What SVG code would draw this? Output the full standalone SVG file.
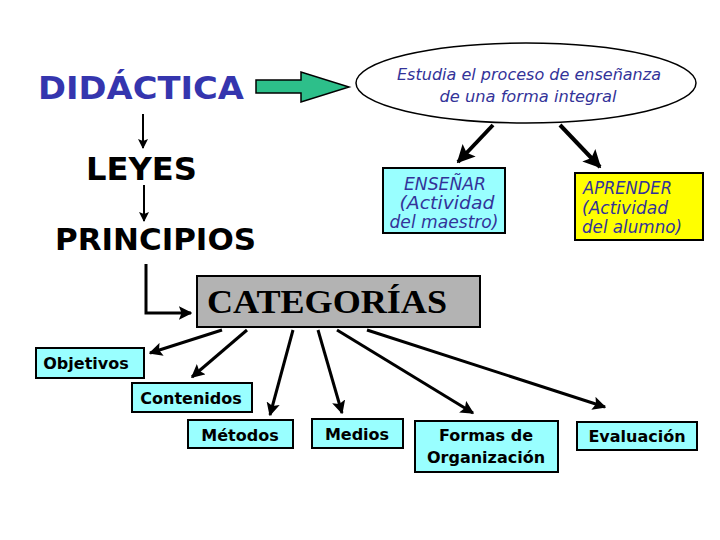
<svg xmlns="http://www.w3.org/2000/svg" width="720" height="540" viewBox="0 0 720 540">
<style>
.big{font-family:"DejaVu Sans",Verdana,sans-serif;font-weight:bold;font-size:32px;fill:#000}
.it{font-family:"DejaVu Sans",Verdana,sans-serif;font-style:italic;font-size:16px;fill:#333399}
.bx{font-size:18px}
.lab{font-family:"DejaVu Sans",Verdana,sans-serif;font-weight:bold;font-size:16px;fill:#000;text-anchor:middle}
.cy{fill:#99ffff;stroke:#000;stroke-width:2}
.thin{stroke:#000;stroke-width:2;fill:none}
.thick{stroke:#000;stroke-width:3;fill:none}
</style>
<defs>
<marker id="ah" viewBox="0 0 10 10" refX="9" refY="5" markerWidth="4.5" markerHeight="4.5" orient="auto" markerUnits="strokeWidth">
<path d="M0,0 L10,5 L0,10 L2,5 Z" fill="#000"/>
</marker>
<marker id="ah2" viewBox="0 0 10 10" refX="9" refY="5" markerWidth="5" markerHeight="5" orient="auto" markerUnits="strokeWidth">
<path d="M0,0 L10,5 L0,10 L2,5 Z" fill="#000"/>
</marker>
</defs>
<rect width="720" height="540" fill="#fff"/>
<g id="connectors">
<polygon points="256,80 301,80 301,72 349,87 301,102 301,93 256,93" fill="#2dbf8a" stroke="#000" stroke-width="1.5"/>
<line class="thin" x1="143" y1="114" x2="143" y2="148" marker-end="url(#ah2)"/>
<line class="thin" x1="144" y1="185" x2="144" y2="221" marker-end="url(#ah2)"/>
<polyline class="thick" points="146,264 146,313 191,313" marker-end="url(#ah)"/>
<line stroke="#000" stroke-width="4" x1="493" y1="125" x2="458" y2="162" marker-end="url(#ah)"/>
<line stroke="#000" stroke-width="4" x1="560" y1="125" x2="600" y2="167" marker-end="url(#ah)"/>
<line class="thick" x1="222" y1="330" x2="150" y2="353" marker-end="url(#ah)"/>
<line class="thick" x1="247" y1="330" x2="192" y2="377" marker-end="url(#ah)"/>
<line class="thick" x1="293" y1="330" x2="270" y2="415" marker-end="url(#ah)"/>
<line class="thick" x1="318" y1="330" x2="342" y2="413" marker-end="url(#ah)"/>
<line class="thick" x1="337" y1="330" x2="473" y2="413" marker-end="url(#ah)"/>
<line class="thick" x1="367" y1="330" x2="605" y2="407" marker-end="url(#ah)"/>
</g>
<g id="didactica">
<text class="big" x="38" y="99" style="fill:#3535ae" textLength="206" lengthAdjust="spacingAndGlyphs">DIDÁCTICA</text>
</g>
<g id="estudia">
<ellipse cx="526" cy="83" rx="170" ry="40" fill="#fff" stroke="#000" stroke-width="1.5"/>
<text class="it" x="529" y="80" text-anchor="middle" textLength="264" lengthAdjust="spacingAndGlyphs">Estudia el proceso de enseñanza</text>
<text class="it" x="528" y="102" text-anchor="middle" textLength="177" lengthAdjust="spacingAndGlyphs">de una forma integral</text>
</g>
<g id="leyes">
<text class="big" x="86" y="180" textLength="111" lengthAdjust="spacingAndGlyphs">LEYES</text>
</g>
<g id="principios">
<text class="big" x="55" y="250" style="font-size:30px" textLength="201" lengthAdjust="spacingAndGlyphs">PRINCIPIOS</text>
</g>
<g id="ensenar">
<rect class="cy" x="383" y="168" width="122" height="65"/>
<text class="it bx" x="445" y="190" text-anchor="middle" textLength="82" lengthAdjust="spacingAndGlyphs">ENSEÑAR</text>
<text class="it bx" x="447" y="209" text-anchor="middle" textLength="95" lengthAdjust="spacingAndGlyphs">(Actividad</text>
<text class="it bx" x="444" y="228" text-anchor="middle" textLength="109" lengthAdjust="spacingAndGlyphs">del maestro)</text>
</g>
<g id="aprender">
<rect x="575" y="173" width="128" height="67" fill="#ffff00" stroke="#000" stroke-width="2"/>
<text class="it bx" x="583" y="194" textLength="89" lengthAdjust="spacingAndGlyphs">APRENDER</text>
<text class="it bx" x="582" y="214" textLength="86" lengthAdjust="spacingAndGlyphs">(Actividad</text>
<text class="it bx" x="582" y="233" textLength="100" lengthAdjust="spacingAndGlyphs">del alumno)</text>
</g>
<g id="categorias">
<rect x="197" y="276" width="283" height="51" fill="#b3b3b3" stroke="#000" stroke-width="2"/>
<text x="207" y="313" font-family="Liberation Serif,Times New Roman,serif" font-weight="bold" font-size="33" fill="#000" textLength="240" lengthAdjust="spacingAndGlyphs">CATEGORÍAS</text>
</g>
<g id="objetivos">
<rect class="cy" x="36" y="348" width="108" height="30"/>
<text class="lab" x="86" y="369">Objetivos</text>
</g>
<g id="contenidos">
<rect class="cy" x="132" y="383" width="120" height="29"/>
<text class="lab" x="191" y="404">Contenidos</text>
</g>
<g id="metodos">
<rect class="cy" x="188" y="420" width="105" height="28"/>
<text class="lab" x="240" y="441">Métodos</text>
</g>
<g id="medios">
<rect class="cy" x="312" y="419" width="91" height="29"/>
<text class="lab" x="357" y="440">Medios</text>
</g>
<g id="formas">
<rect class="cy" x="415" y="421" width="143" height="51"/>
<text class="lab" x="486" y="441">Formas de</text>
<text class="lab" x="486" y="463">Organización</text>
</g>
<g id="evaluacion">
<rect class="cy" x="577" y="422" width="120" height="28"/>
<text class="lab" x="637" y="442">Evaluación</text>
</g>
</svg>
